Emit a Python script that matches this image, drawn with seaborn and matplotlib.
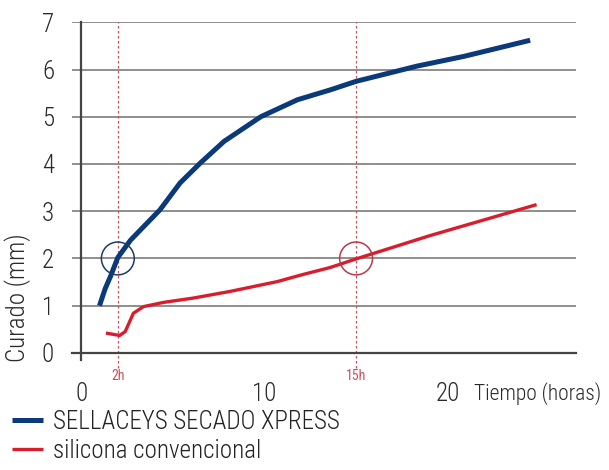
import numpy as np
import pandas as pd
import matplotlib
matplotlib.use('Agg')
import matplotlib.pyplot as plt
import seaborn as sns

# curing depth (mm) against time (hours)
xpress_h = [1.0, 1.3, 1.6, 2.0, 2.7, 3.6, 4.3, 5.4, 6.5, 7.8, 9.8, 11.8, 13.6, 15.0, 18.3, 20.9, 24.5]
xpress_mm = [1.0, 1.35, 1.62, 2.02, 2.39, 2.75, 3.03, 3.60, 4.02, 4.48, 5.0, 5.36, 5.57, 5.75, 6.07, 6.28, 6.62]

silicona_h = [1.35, 2.1, 2.4, 2.85, 3.4, 4.5, 6.1, 8.1, 10.7, 12.0, 13.6, 15.0, 19.0, 24.85]
silicona_mm = [0.42, 0.37, 0.45, 0.84, 0.98, 1.07, 1.16, 1.30, 1.51, 1.65, 1.81, 1.99, 2.48, 3.14]

labels = ['SELLACEYS SECADO XPRESS', 'silicona convencional']
mark_h = [2, 15]
mark_labels = ['2h', '15h']
mark_mm = [2, 2]

y_ticks = [0, 1, 2, 3, 4, 5, 6, 7]
x_major = [0, 10, 20]
x_minor = [0, 1, 2, 3, 4, 5, 6, 7, 8, 9, 10, 20]
minor_len = [6.5, 6.5, 0, 11, 16, 8.5, 16, 6.5, 16, 6.5, 16, 6.5]

BLUE = '#0b3a7a'
RED = '#d81e2c'
PINK = '#c8505c'
TXT = '#2a2a2a'

sns.set_style('white')
plt.rcParams['font.family'] = ['Roboto Condensed', 'DejaVu Sans']
plt.rcParams['font.weight'] = 300
plt.rcParams['axes.labelweight'] = 300
FS = 18

df_x = pd.DataFrame({'h': xpress_h, 'mm': xpress_mm})
df_s = pd.DataFrame({'h': silicona_h, 'mm': silicona_mm})

fig = plt.figure(figsize=(6.09, 4.70), dpi=100)
ax = fig.add_axes([72 / 609, 110 / 470, 504 / 609, 337.7 / 470])

sns.lineplot(data=df_x, x='h', y='mm', ax=ax, sort=False, estimator=None,
             color=BLUE, linewidth=3.6, label=labels[0], solid_capstyle='butt', zorder=4)
sns.lineplot(data=df_s, x='h', y='mm', ax=ax, sort=False, estimator=None,
             color=RED, linewidth=2.4, label=labels[1], solid_capstyle='butt', zorder=4)

# highlight circles
ax.scatter(mark_h[:1], mark_mm[:1], s=560, facecolors='none', edgecolors='#1d3b66', linewidths=1.1, zorder=5)
ax.scatter(mark_h[1:], mark_mm[1:], s=560, facecolors='none', edgecolors='#b83a48', linewidths=1.1, zorder=5)

# dashed reference lines
ax.vlines(mark_h, -0.32, 7, colors=PINK, linestyles=(0, (2, 2)), linewidth=0.9, clip_on=False, zorder=2)
for h, t in zip(mark_h, mark_labels):
    ax.text(h, -0.49, t, color=PINK, fontsize=10, fontweight=400, ha='center', va='center')

ax.set_xlim(-0.5, 27)
ax.set_ylim(-0.15, 7)

ax.set_yticks(y_ticks)
ax.set_yticklabels([str(v) for v in y_ticks])
ax.yaxis.grid(True, color='#707070', linewidth=1.1)
ax.xaxis.grid(False)
for gl, v in zip(ax.yaxis.get_gridlines(), y_ticks):
    if v == 4:
        gl.set_color('#111111')
        gl.set_linewidth(0.9)
ax.tick_params(axis='y', length=0, pad=19.5, labelsize=FS, labelcolor=TXT)

ax.xaxis.remove_overlapping_locs = False
ax.set_xticks(x_major)
ax.set_xticklabels([str(v) for v in x_major])
ax.set_xticks(x_minor, minor=True)
ax.tick_params(axis='x', which='major', length=0, pad=21, labelsize=FS, labelcolor=TXT)
ax.tick_params(axis='x', which='minor', direction='out', width=1.2, color='#444444')
for tk, ln in zip(ax.xaxis.get_minor_ticks(), minor_len):
    tk.tick1line.set_markersize(ln)

ax.text(21.45, -0.99, 'Tiempo (horas)', fontsize=15.5, color=TXT, ha='left', va='baseline')

for side in ['top', 'right']:
    ax.spines[side].set_visible(False)
ax.spines['left'].set_position(('data', 0))
ax.spines['bottom'].set_position(('data', 0))
for side in ['left', 'bottom']:
    ax.spines[side].set_color('#444444')
    ax.spines[side].set_linewidth(1.6)
ax.spines['bottom'].set_zorder(3)

ax.set_xlabel('')
ax.set_ylabel('Curado (mm)', fontsize=FS, color=TXT)
ax.yaxis.set_label_coords(-0.081, 0.184)

handles, labs = ax.get_legend_handles_labels()
ax.get_legend().remove()
fig.legend(handles, labs, loc='upper left', bbox_to_anchor=(12 / 609, 60 / 470),
           frameon=False, fontsize=FS, borderpad=0, borderaxespad=0,
           handlelength=1.25, handletextpad=0.4, labelspacing=0.2, labelcolor='#222222')

fig.savefig('out.png', dpi=100)
